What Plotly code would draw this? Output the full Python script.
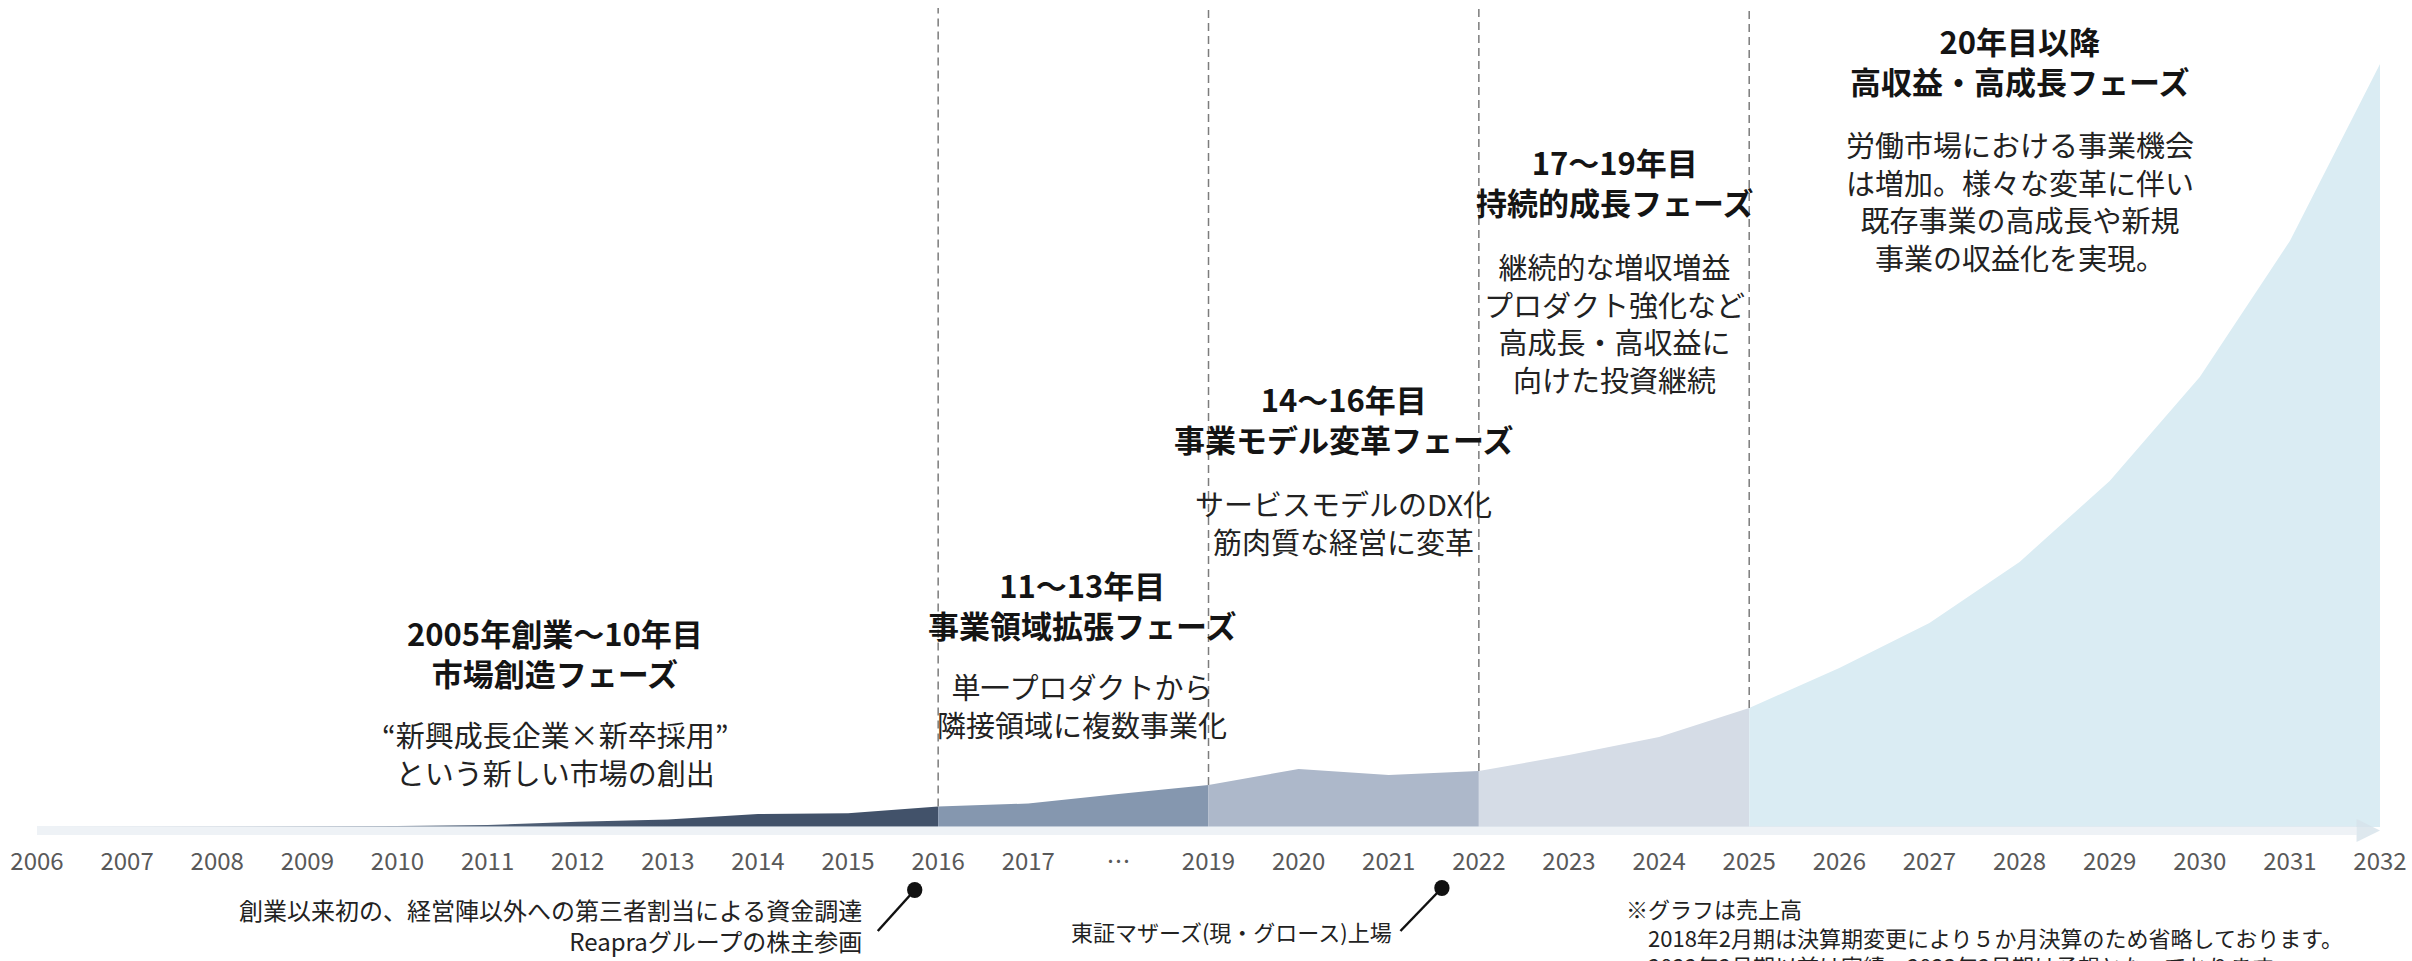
import plotly.graph_objects as go

# ---------------- data ----------------
years = list(range(2006, 2033))
tick_labels = [str(y) if y != 2018 else "…" for y in years]
# revenue (relative units)
sales = [0, 0.2, 0.4, 0.6, 1.0, 2.0, 5.3, 7.5, 13.0, 13.7,
         20.5, 23.5, 33, 42, 58, 52, 56, 72, 90, 119,
         159, 204, 265, 346, 450, 586, 763]

phase_bounds = [2006, 2016, 2019, 2022, 2025, 2032]
phase_colors = ["#42526a", "#8597af", "#adb8ca", "#d5dce6", "#daecf3"]
divider_years = [2016, 2019, 2022, 2025]

phase_titles = [
    "2005年創業～10年目<br>市場創造フェーズ",
    "11～13年目<br>事業領域拡張フェーズ",
    "14～16年目<br>事業モデル変革フェーズ",
    "17～19年目<br>持続的成長フェーズ",
    "20年目以降<br>高収益・高成長フェーズ",
]
phase_descs = [
    "“新興成長企業×新卒採用”<br>という新しい市場の創出",
    "単一プロダクトから<br>隣接領域に複数事業化",
    "サービスモデルのDX化<br>筋肉質な経営に変革",
    "継続的な増収増益<br>プロダクト強化など<br>高成長・高収益に<br>向けた投資継続",
    "労働市場における事業機会<br>は増加。様々な変革に伴い<br>既存事業の高成長や新規<br>事業の収益化を実現。",
]
# text anchor positions (x in index units, y in value units)
title_pos = [(5.75, 175), (11.6, 223), (14.5, 409), (17.5, 646), (22.0, 767)]
desc_pos = [(5.75, 74), (11.6, 122), (14.5, 305), (17.5, 505), (22.0, 627)]

events = [
    ("創業以来初の、経営陣以外への第三者割当による資金調達<br>Reapraグループの株主参画", 9.74, -63, 9.33, -104, 9.17, -98, 24),
    ("東証マザーズ(現・グロース)上場", 15.59, -61, 15.13, -104, 15.05, -104, 22),
]
footnote = ("※グラフは売上高<br>"
            "　2018年2月期は決算期変更により５か月決算のため省略しております。<br>"
            "　2022年2月期以前は実績、2023年2月期は予想となっております。")

# ---------------- figure ----------------
FONT = "Noto Sans CJK JP"
idx = list(range(len(years)))
fig = go.Figure()

for p in range(len(phase_colors)):
    i0 = years.index(phase_bounds[p])
    i1 = years.index(phase_bounds[p + 1])
    xs = idx[i0:i1 + 1]
    ys = sales[i0:i1 + 1]
    kw = dict(fillcolor=phase_colors[p])
    if p == 0:
        kw = dict(fillgradient=dict(type="horizontal",
                                    colorscale=[[0, "#e3e7ec"], [0.45, "#56667c"],
                                                [0.7, "#42526a"], [1, "#42526a"]]))
    fig.add_trace(go.Scatter(x=xs, y=ys, mode="lines", fill="tozeroy",
                             line=dict(width=0), hoverinfo="skip",
                             showlegend=False, **kw))

# baseline band + arrow head
fig.add_shape(type="rect", xref="x", yref="y", x0=0, x1=25.74, y0=-8, y1=1,
              fillcolor="rgba(226,233,240,0.6)", line=dict(width=0), layer="above")
fig.add_shape(type="path", xref="x", yref="y",
              path="M 25.74 8 L 26 -3.5 L 25.74 -15 Z",
              fillcolor="rgba(214,226,234,0.8)", line=dict(width=0), layer="above")

# dashed dividers
for y in divider_years:
    i = years.index(y)
    fig.add_shape(type="line", xref="x", yref="y", x0=i, x1=i, y0=sales[i], y1=819,
                  line=dict(color="#7c7c7c", width=1.5, dash="8px,5px"), layer="above")

# phase texts
for t, (x, y) in zip(phase_titles, title_pos):
    fig.add_annotation(x=x, y=y, xref="x", yref="y", text="<b>" + t + "</b>",
                       showarrow=False, align="center", xanchor="center", yanchor="middle",
                       font=dict(family=FONT, size=31, color="#141414"))
for t, (x, y) in zip(phase_descs, desc_pos):
    fig.add_annotation(x=x, y=y, xref="x", yref="y", text=t,
                       showarrow=False, align="center", xanchor="center", yanchor="middle",
                       font=dict(family=FONT, size=29, color="#222222"))

# events with dot + leader line
for text, dx, dy, lx, ly, tx, ty, fs in events:
    fig.add_shape(type="line", xref="x", yref="y", x0=dx, y0=dy, x1=lx, y1=ly,
                  line=dict(color="#111111", width=2.5))
    fig.add_shape(type="circle", xref="x", yref="y",
                  x0=dx - 0.085, x1=dx + 0.085, y0=dy - 8, y1=dy + 8,
                  fillcolor="#111111", line=dict(width=0))
    fig.add_annotation(x=tx, y=ty, xref="x", yref="y", text=text, showarrow=False,
                       align="right", xanchor="right", yanchor="middle", borderpad=0,
                       font=dict(family=FONT, size=fs, color="#222222"))

fig.add_annotation(x=17.61, y=-63, xref="x", yref="y", text=footnote, showarrow=False,
                   align="left", xanchor="left", yanchor="top",
                   font=dict(family=FONT, size=22, color="#222222"))

fig.update_layout(
    width=2412, height=961, autosize=False,
    margin=dict(l=0, r=0, t=0, b=0),
    paper_bgcolor="white", plot_bgcolor="white",
    font=dict(family=FONT),
    showlegend=False,
    xaxis=dict(range=[-0.4106, 26.355], tickvals=idx, ticktext=tick_labels,
               showgrid=False, zeroline=False, showline=False, ticks="",
               tickfont=dict(family=FONT, size=24, color="#595959"),
               ticklabeloverflow="allow",
               anchor="free", position=0.121, fixedrange=True),
    yaxis=dict(range=[-134, 827], visible=False, fixedrange=True),
)

fig.write_html("out.html", config={"displayModeBar": False},
               post_script="document.body.style.margin='0';document.body.style.overflow='hidden';")
